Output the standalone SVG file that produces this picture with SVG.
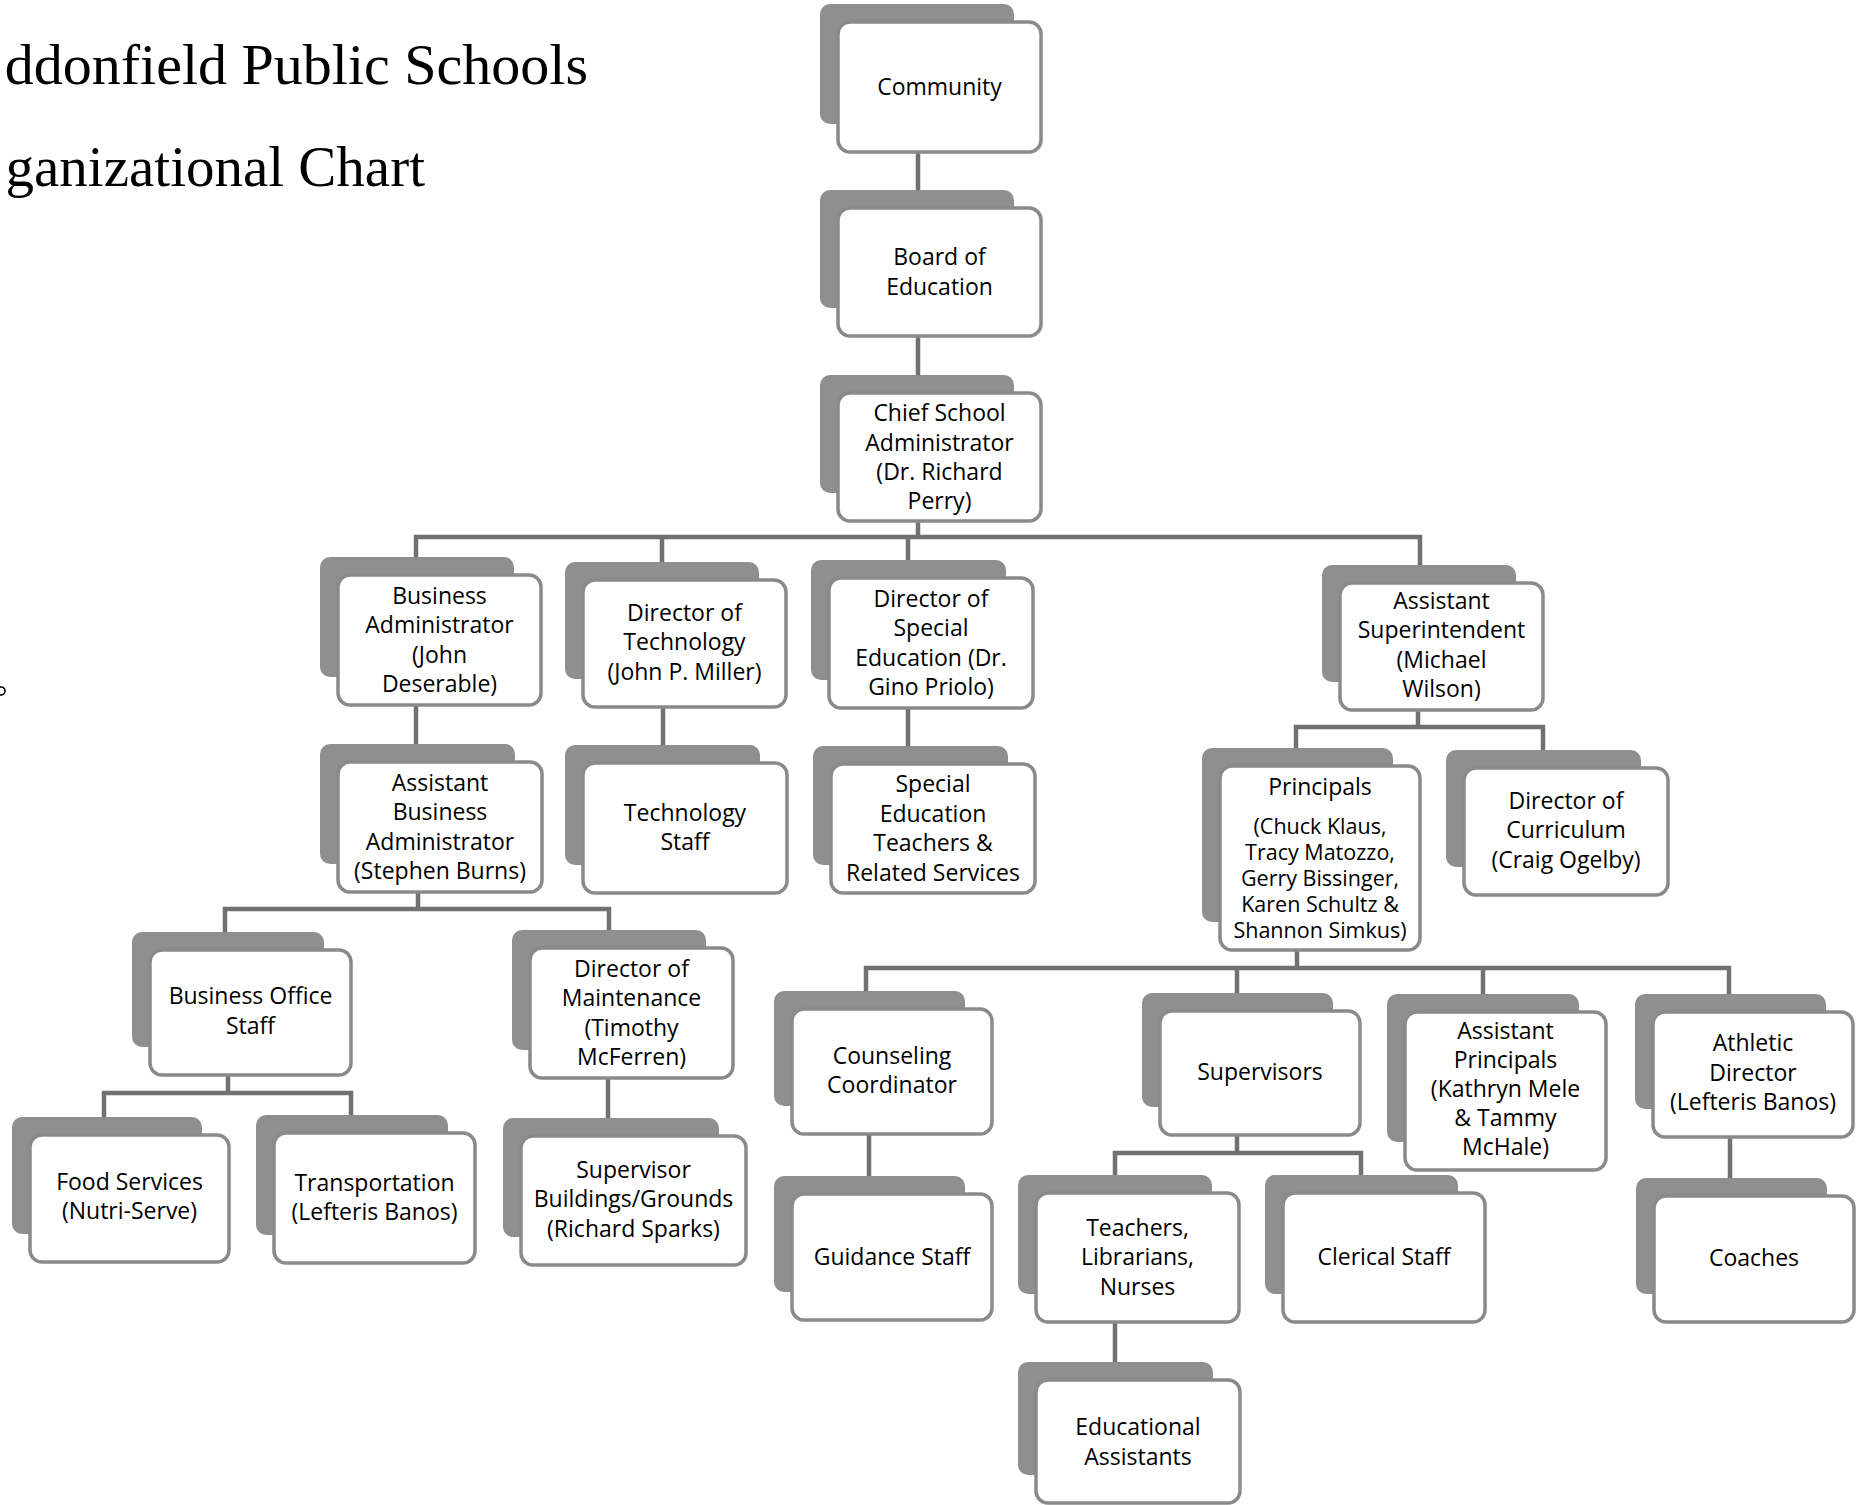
<svg xmlns="http://www.w3.org/2000/svg" width="1860" height="1505" viewBox="0 0 1860 1505">
<style>
.sh{fill:#8f8f8f;}
.bx{fill:#ffffff;stroke:#8a8a8a;stroke-width:3.5;}
.t{font-family:"Open Sans","Liberation Sans",sans-serif;font-size:23px;fill:#000;text-anchor:middle;}
.s{font-size:21.5px;}
.c{stroke:#717171;stroke-width:4.5;fill:none;}
.ttl{font-family:"Liberation Serif","Times New Roman",serif;font-size:58px;fill:#000;text-anchor:end;}
</style>
<rect width="1860" height="1505" fill="#ffffff"/>
<g id="title">
<text class="ttl" x="588" y="84">ddonfield Public Schools</text>
<text class="ttl" x="425" y="186" style="font-size:57px">ganizational Chart</text>
<circle cx="1" cy="691" r="4" fill="none" stroke="#000" stroke-width="1.6"/>
</g>
<g id="connectors">
<path class="c" d="M918 151V208M918 336V393"/>
<path class="c" d="M918 520V537M416 575V537H1420V583M662 537V580M908 537V578"/>
<path class="c" d="M416 705V762M663 707V763M908 708V764"/>
<path class="c" d="M1418 710V727M1296 766V727H1543V768"/>
<path class="c" d="M418 892V909M225 950V909H609V948"/>
<path class="c" d="M228 1075V1093M104 1135V1093H351V1133"/>
<path class="c" d="M608 1078V1136"/>
<path class="c" d="M1297 950V968M866 1009V968H1729V1012M1237 968V1011M1483 968V1012"/>
<path class="c" d="M869 1134V1194"/>
<path class="c" d="M1237 1135V1153M1115 1193V1153H1361V1193"/>
<path class="c" d="M1730 1137V1196"/>
<path class="c" d="M1115 1322V1380"/>
</g>
<g id="n-community"><rect class="sh" x="820" y="4" width="194" height="120" rx="10"/><rect class="bx" x="838" y="22" width="203" height="130" rx="12"/>
<text class="t"><tspan x="939.5" y="95">Community</tspan></text></g>
<g id="n-board"><rect class="sh" x="820" y="190" width="194" height="118" rx="10"/><rect class="bx" x="838" y="208" width="203" height="128" rx="12"/>
<text class="t"><tspan x="939.5" y="265">Board of</tspan><tspan x="939.5" y="294.5">Education</tspan></text></g>
<g id="n-chief"><rect class="sh" x="820" y="375" width="194" height="118" rx="10"/><rect class="bx" x="838" y="393" width="203" height="128" rx="12"/>
<text class="t"><tspan x="939.5" y="421">Chief School</tspan><tspan x="939.5" y="450.5">Administrator</tspan><tspan x="939.5" y="480">(Dr. Richard</tspan><tspan x="939.5" y="509">Perry)</tspan></text></g>
<g id="n-busadmin"><rect class="sh" x="320" y="557" width="194" height="120" rx="10"/><rect class="bx" x="338" y="575" width="203" height="130" rx="12"/>
<text class="t"><tspan x="439.5" y="603.5">Business</tspan><tspan x="439.5" y="633">Administrator</tspan><tspan x="439.5" y="662.5">(John</tspan><tspan x="439.5" y="692">Deserable)</tspan></text></g>
<g id="n-dirtech"><rect class="sh" x="565" y="562" width="194" height="117" rx="10"/><rect class="bx" x="583" y="580" width="203" height="127" rx="12"/>
<text class="t"><tspan x="684.5" y="620.5">Director of</tspan><tspan x="684.5" y="650">Technology</tspan><tspan x="684.5" y="679.5">(John P. Miller)</tspan></text></g>
<g id="n-dirsped"><rect class="sh" x="811" y="560" width="195" height="120" rx="10"/><rect class="bx" x="829" y="578" width="204" height="130" rx="12"/>
<text class="t"><tspan x="931" y="606.5">Director of</tspan><tspan x="931" y="636">Special</tspan><tspan x="931" y="665.5">Education (Dr.</tspan><tspan x="931" y="695">Gino Priolo)</tspan></text></g>
<g id="n-asstsuper"><rect class="sh" x="1322" y="565" width="194" height="117" rx="10"/><rect class="bx" x="1340" y="583" width="203" height="127" rx="12"/>
<text class="t"><tspan x="1441.5" y="608.5">Assistant</tspan><tspan x="1441.5" y="638">Superintendent</tspan><tspan x="1441.5" y="667.5">(Michael</tspan><tspan x="1441.5" y="697">Wilson)</tspan></text></g>
<g id="n-asstbus"><rect class="sh" x="320" y="744" width="195" height="120" rx="10"/><rect class="bx" x="338" y="762" width="204" height="130" rx="12"/>
<text class="t"><tspan x="440" y="790.5">Assistant</tspan><tspan x="440" y="820">Business</tspan><tspan x="440" y="849.5">Administrator</tspan><tspan x="440" y="879">(Stephen Burns)</tspan></text></g>
<g id="n-techstaff"><rect class="sh" x="565" y="745" width="195" height="120" rx="10"/><rect class="bx" x="583" y="763" width="204" height="130" rx="12"/>
<text class="t"><tspan x="685" y="820.5">Technology</tspan><tspan x="685" y="850">Staff</tspan></text></g>
<g id="n-spedteachers"><rect class="sh" x="813" y="746" width="195" height="119" rx="10"/><rect class="bx" x="831" y="764" width="204" height="129" rx="12"/>
<text class="t"><tspan x="933" y="792">Special</tspan><tspan x="933" y="821.5">Education</tspan><tspan x="933" y="851">Teachers &amp;</tspan><tspan x="933" y="880.5">Related Services</tspan></text></g>
<g id="n-principals"><rect class="sh" x="1202" y="748" width="191" height="174" rx="10"/><rect class="bx" x="1220" y="766" width="200" height="184" rx="12"/>
<text class="t"><tspan x="1320" y="795">Principals</tspan><tspan class="s" x="1320" y="834">(Chuck Klaus,</tspan><tspan class="s" x="1320" y="860">Tracy Matozzo,</tspan><tspan class="s" x="1320" y="886">Gerry Bissinger,</tspan><tspan class="s" x="1320" y="912">Karen Schultz &amp;</tspan><tspan class="s" x="1320" y="938">Shannon Simkus)</tspan></text></g>
<g id="n-dircurr"><rect class="sh" x="1446" y="750" width="195" height="117" rx="10"/><rect class="bx" x="1464" y="768" width="204" height="127" rx="12"/>
<text class="t"><tspan x="1566" y="808.5">Director of</tspan><tspan x="1566" y="838">Curriculum</tspan><tspan x="1566" y="867.5">(Craig Ogelby)</tspan></text></g>
<g id="n-busoffice"><rect class="sh" x="132" y="932" width="192" height="115" rx="10"/><rect class="bx" x="150" y="950" width="201" height="125" rx="12"/>
<text class="t"><tspan x="250.5" y="1004">Business Office</tspan><tspan x="250.5" y="1033.5">Staff</tspan></text></g>
<g id="n-dirmaint"><rect class="sh" x="512" y="930" width="194" height="120" rx="10"/><rect class="bx" x="530" y="948" width="203" height="130" rx="12"/>
<text class="t"><tspan x="631.5" y="976.5">Director of</tspan><tspan x="631.5" y="1006">Maintenance</tspan><tspan x="631.5" y="1035.5">(Timothy</tspan><tspan x="631.5" y="1065">McFerren)</tspan></text></g>
<g id="n-counseling"><rect class="sh" x="774" y="991" width="191" height="115" rx="10"/><rect class="bx" x="792" y="1009" width="200" height="125" rx="12"/>
<text class="t"><tspan x="892" y="1063.5">Counseling</tspan><tspan x="892" y="1093">Coordinator</tspan></text></g>
<g id="n-supervisors"><rect class="sh" x="1142" y="993" width="191" height="114" rx="10"/><rect class="bx" x="1160" y="1011" width="200" height="124" rx="12"/>
<text class="t"><tspan x="1260" y="1080">Supervisors</tspan></text></g>
<g id="n-asstprincipals"><rect class="sh" x="1387" y="994" width="192" height="148" rx="10"/><rect class="bx" x="1405" y="1012" width="201" height="158" rx="12"/>
<text class="t"><tspan x="1505.5" y="1039">Assistant</tspan><tspan x="1505.5" y="1068">Principals</tspan><tspan x="1505.5" y="1097">(Kathryn Mele</tspan><tspan x="1505.5" y="1126">&amp; Tammy</tspan><tspan x="1505.5" y="1155">McHale)</tspan></text></g>
<g id="n-athletic"><rect class="sh" x="1635" y="994" width="191" height="115" rx="10"/><rect class="bx" x="1653" y="1012" width="200" height="125" rx="12"/>
<text class="t"><tspan x="1753" y="1051">Athletic</tspan><tspan x="1753" y="1080.5">Director</tspan><tspan x="1753" y="1110">(Lefteris Banos)</tspan></text></g>
<g id="n-food"><rect class="sh" x="12" y="1117" width="190" height="117" rx="10"/><rect class="bx" x="30" y="1135" width="199" height="127" rx="12"/>
<text class="t"><tspan x="129.5" y="1189.5">Food Services</tspan><tspan x="129.5" y="1219">(Nutri-Serve)</tspan></text></g>
<g id="n-transport"><rect class="sh" x="256" y="1115" width="192" height="120" rx="10"/><rect class="bx" x="274" y="1133" width="201" height="130" rx="12"/>
<text class="t"><tspan x="374.5" y="1190.5">Transportation</tspan><tspan x="374.5" y="1220">(Lefteris Banos)</tspan></text></g>
<g id="n-supbuild"><rect class="sh" x="503" y="1118" width="216" height="119" rx="10"/><rect class="bx" x="521" y="1136" width="225" height="129" rx="12"/>
<text class="t"><tspan x="633.5" y="1177.5">Supervisor</tspan><tspan x="633.5" y="1207">Buildings/Grounds</tspan><tspan x="633.5" y="1236.5">(Richard Sparks)</tspan></text></g>
<g id="n-guidance"><rect class="sh" x="774" y="1176" width="191" height="116" rx="10"/><rect class="bx" x="792" y="1194" width="200" height="126" rx="12"/>
<text class="t"><tspan x="892" y="1265">Guidance Staff</tspan></text></g>
<g id="n-teachers"><rect class="sh" x="1018" y="1175" width="194" height="119" rx="10"/><rect class="bx" x="1036" y="1193" width="203" height="129" rx="12"/>
<text class="t"><tspan x="1137.5" y="1235.5">Teachers,</tspan><tspan x="1137.5" y="1265">Librarians,</tspan><tspan x="1137.5" y="1294.5">Nurses</tspan></text></g>
<g id="n-clerical"><rect class="sh" x="1265" y="1175" width="193" height="119" rx="10"/><rect class="bx" x="1283" y="1193" width="202" height="129" rx="12"/>
<text class="t"><tspan x="1384" y="1265">Clerical Staff</tspan></text></g>
<g id="n-coaches"><rect class="sh" x="1636" y="1178" width="191" height="116" rx="10"/><rect class="bx" x="1654" y="1196" width="200" height="126" rx="12"/>
<text class="t"><tspan x="1754" y="1266">Coaches</tspan></text></g>
<g id="n-eduassist"><rect class="sh" x="1018" y="1362" width="195" height="113" rx="10"/><rect class="bx" x="1036" y="1380" width="204" height="123" rx="12"/>
<text class="t"><tspan x="1138" y="1435">Educational</tspan><tspan x="1138" y="1464.5">Assistants</tspan></text></g>
</svg>
